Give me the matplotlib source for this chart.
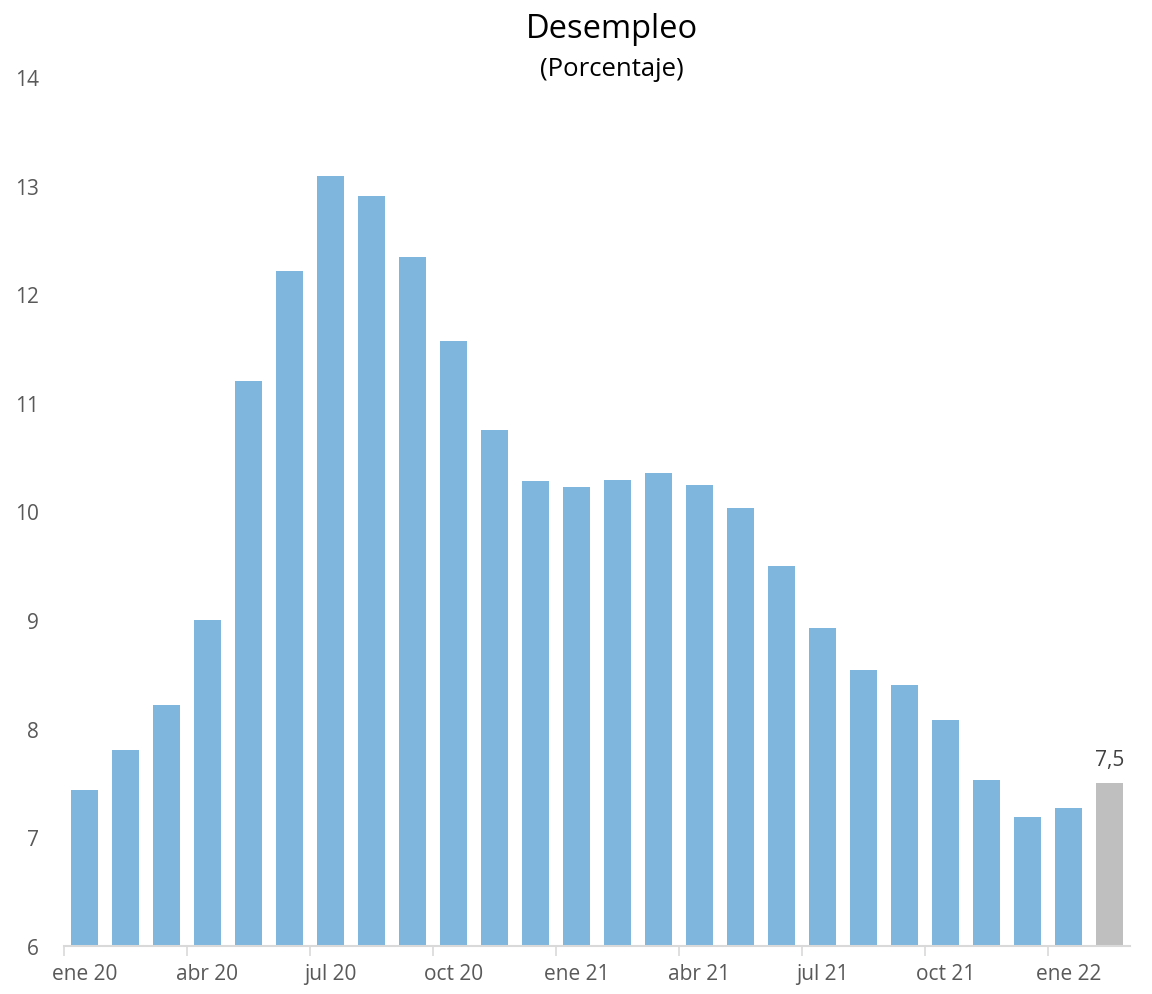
import matplotlib
matplotlib.use("Agg")
import matplotlib.pyplot as plt
from matplotlib.ticker import FixedLocator

plt.rcParams['font.family'] = ['Open Sans', 'DejaVu Sans']

months = ["ene 20", "feb 20", "mar 20", "abr 20", "may 20", "jun 20", "jul 20", "ago 20",
          "sep 20", "oct 20", "nov 20", "dic 20", "ene 21", "feb 21", "mar 21", "abr 21",
          "may 21", "jun 21", "jul 21", "ago 21", "sep 21", "oct 21", "nov 21", "dic 21",
          "ene 22", "feb 22"]
unemployment = [7.44, 7.8, 8.22, 9.0, 11.2, 12.21, 13.09, 12.9, 12.34, 11.57, 10.75, 10.28,
                10.23, 10.29, 10.35, 10.24, 10.03, 9.5, 8.93, 8.54, 8.4, 8.08, 7.53, 7.19,
                7.27, 7.5]
yticks = [6, 7, 8, 9, 10, 11, 12, 13, 14]

blue = "#7EB6DE"
grey = "#BFBFBF"
text_col = "#595959"

fig = plt.figure(figsize=(11.52, 9.95), dpi=100)
ax = fig.add_axes([64 / 1152, 1 - 947 / 995, (1130 - 64) / 1152, (947 - 78) / 995])

x = list(range(len(months)))
colors = [blue] * (len(months) - 1) + [grey]
ax.bar(x, [v - 6 for v in unemployment], bottom=6, width=0.67, color=colors, zorder=2)

last = unemployment[-1]
ax.text(x[-1], last + 0.12, f"{last:.1f}".replace(".", ","), ha="center", va="bottom",
        fontsize=15, color="#404040")

ax.set_xlim(-0.5, len(months) - 0.5)
ax.set_ylim(6, 14)
ax.set_yticks(yticks)
ax.set_yticklabels([str(t) for t in yticks])

label_pos = x[::3]
ax.set_xticks(label_pos)
ax.set_xticklabels([months[i] for i in label_pos])
ax.xaxis.set_minor_locator(FixedLocator([i - 0.5 for i in label_pos]))
ax.tick_params(axis="x", which="major", length=0, pad=12, labelsize=15, labelcolor=text_col)
ax.tick_params(axis="x", which="minor", length=7, width=1.2, color="#D9D9D9")
ax.tick_params(axis="y", length=0, pad=18, labelsize=15, labelcolor=text_col)

for s in ["top", "right", "left"]:
    ax.spines[s].set_visible(False)
ax.spines["bottom"].set_color("#D9D9D9")
ax.spines["bottom"].set_linewidth(1.5)

fig.text(612 / 1152, 1 - 30 / 995, "Desempleo", ha="center", va="center", fontsize=23.5, color="black")
fig.text(612 / 1152, 1 - 69 / 995, "(Porcentaje)", ha="center", va="center", fontsize=18.5, color="black")

fig.savefig("out.png", dpi=100)
